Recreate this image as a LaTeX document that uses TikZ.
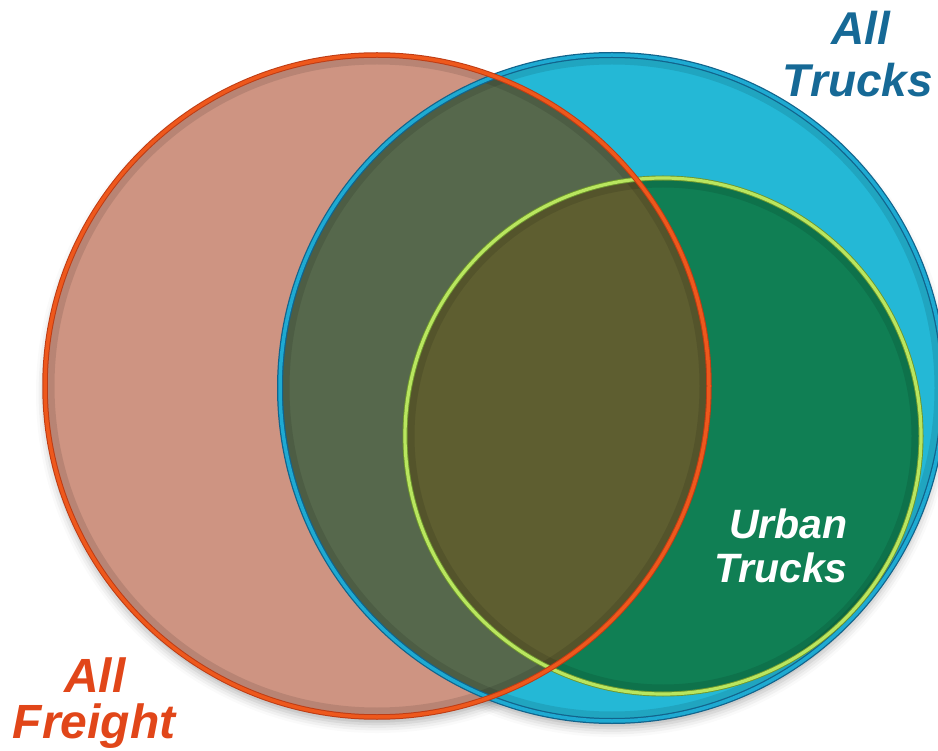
\documentclass[tikz,border=0pt]{standalone}
\usepackage{fontspec}
\setmainfont{Liberation Sans}
\usetikzlibrary{shadows.blur}

\definecolor{salmonfill}{RGB}{206,148,130}
\definecolor{truckfill}{RGB}{36,184,214}
\definecolor{urbanfill}{RGB}{16,127,84}
\definecolor{mixtf}{RGB}{86,104,76}
\definecolor{mixuf}{RGB}{94,94,48}
\definecolor{freightline}{RGB}{238,88,28}
\definecolor{freightdark}{RGB}{190,60,20}
\definecolor{truckline}{RGB}{30,170,210}
\definecolor{truckdark}{RGB}{18,100,140}
\definecolor{urbanline}{RGB}{185,230,95}
\definecolor{urbandark}{RGB}{110,150,45}
\definecolor{freighttext}{RGB}{225,70,25}
\definecolor{trucktext}{RGB}{22,105,150}

\tikzset{
  labeltext/.style={font=\fontsize{48}{48}\selectfont\bfseries\itshape, inner sep=0pt},
  cornerlabel/.style={font=\fontsize{46}{46}\selectfont\bfseries\itshape, inner sep=0pt},
  smalllabel/.style={font=\fontsize{41}{41}\selectfont\bfseries\itshape, inner sep=0pt, text=white},
  softshadow/.style={blur shadow={shadow xshift=0pt, shadow yshift=-7pt,
      shadow blur radius=9pt, shadow opacity=30}},
  innerband/.style={line width=7pt, black, opacity=0.10},
}

\begin{document}
\begin{tikzpicture}[x=1pt,y=-1pt]
\useasboundingbox (0,0) rectangle (938,751);

% circle centres
\coordinate (cf) at (377,386);
\coordinate (ct) at (612,388);
\coordinate (cu) at (663,436);

\def\freightset{(cf) ellipse [x radius=332pt, y radius=331pt]}
\def\truckset{(ct) ellipse [x radius=332pt, y radius=333pt]}
\def\urbanset{(cu) ellipse [x radius=258pt, y radius=258pt]}

% soft shadows under the sets
\path[softshadow] \truckset;
\path[softshadow] \freightset;

% base fills
\fill[truckfill] \truckset;
\fill[urbanfill] \urbanset;
\fill[salmonfill] \freightset;

% overlaps
\begin{scope}
  \clip \truckset;
  \fill[mixtf] \freightset;
\end{scope}
\begin{scope}
  \clip \urbanset;
  \fill[mixuf] \freightset;
\end{scope}

% bevel bands just inside each rim
\draw[innerband] (ct) ellipse [x radius=326pt, y radius=327pt];
\draw[innerband] (cu) ellipse [x radius=252pt, y radius=252pt];
\draw[innerband] (cf) ellipse [x radius=326pt, y radius=325pt];

% rims
\draw[truckdark, line width=6pt] \truckset;
\draw[truckline, line width=3.5pt] \truckset;
\draw[urbandark, line width=5pt] \urbanset;
\draw[urbanline, line width=3.2pt] \urbanset;
\draw[freightdark, line width=5.5pt] \freightset;
\draw[freightline, line width=3.5pt] \freightset;

% labels
\node[cornerlabel, text=trucktext, anchor=base] (trucksA) at (861,45) {All};
\node[cornerlabel, text=trucktext, anchor=base] (trucksB) at (858,97) {Trucks};
\node[labeltext, text=freighttext, anchor=base] (freightA) at (95,692) {All};
\node[labeltext, text=freighttext, anchor=base] (freightB) at (94,738) {Freight};
\node[smalllabel, anchor=base east] (urbanA) at (848,538) {Urban};
\node[smalllabel, anchor=base east] (urbanB) at (848,582) {Trucks};
\end{tikzpicture}
\end{document}
